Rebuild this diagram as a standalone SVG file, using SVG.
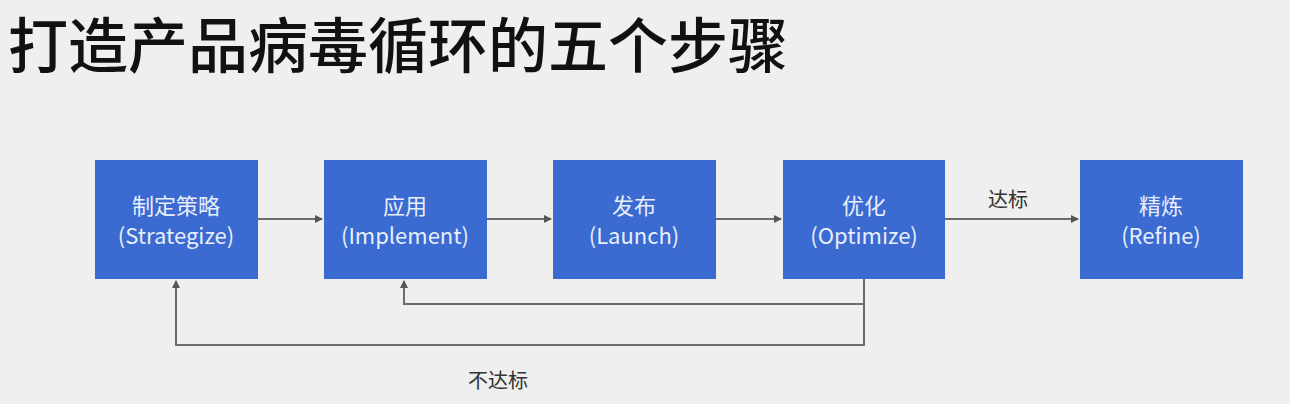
<svg xmlns="http://www.w3.org/2000/svg" width="1290" height="404" viewBox="0 0 1290 404">
<style>
.box{fill:#3b6bd0}
.t{font-family:"Noto Sans CJK SC","Noto Sans",sans-serif;fill:#e8eefc;font-size:22px;text-anchor:middle}
.ln{stroke:#6b6b72;stroke-width:2;fill:none}
.lb{font-family:"Noto Sans CJK SC",sans-serif;fill:#333;font-size:20px}
</style>
<defs><marker id="a" markerWidth="8" markerHeight="8" refX="7" refY="4" orient="auto" markerUnits="userSpaceOnUse"><path d="M0,0 L8,4 L0,8 z" fill="#555"/></marker></defs>
<rect width="1290" height="404" fill="#efefef"/>
<text x="8" y="68" font-family="Noto Sans CJK SC,sans-serif" font-size="60" font-weight="500" fill="#111">打造产品病毒循环的五个步骤</text>
<g id="connectors">
<path class="ln" d="M258,219 H322" marker-end="url(#a)"/>
<path class="ln" d="M487,219 H551" marker-end="url(#a)"/>
<path class="ln" d="M716,219 H781" marker-end="url(#a)"/>
<path class="ln" d="M945,219 H1078" marker-end="url(#a)"/>
<path class="ln" d="M864,279 V304 H404 V281" marker-end="url(#a)"/>
<path class="ln" d="M864,304 V345 H176 V281" marker-end="url(#a)"/>
<text class="lb" x="988" y="207">达标</text>
<text class="lb" x="468" y="388">不达标</text>
</g>
<g id="n1"><rect class="box" x="95" y="160" width="163" height="119"/><text class="t" x="176" y="214">制定策略</text><text class="t" x="176" y="244">(Strategize)</text></g>
<g id="n2"><rect class="box" x="324" y="160" width="163" height="119"/><text class="t" x="405" y="214">应用</text><text class="t" x="405" y="244">(Implement)</text></g>
<g id="n3"><rect class="box" x="553" y="160" width="163" height="119"/><text class="t" x="634" y="214">发布</text><text class="t" x="634" y="244">(Launch)</text></g>
<g id="n4"><rect class="box" x="783" y="160" width="162" height="119"/><text class="t" x="864" y="214">优化</text><text class="t" x="864" y="244">(Optimize)</text></g>
<g id="n5"><rect class="box" x="1080" y="160" width="163" height="119"/><text class="t" x="1161" y="214">精炼</text><text class="t" x="1161" y="244">(Refine)</text></g>
</svg>
